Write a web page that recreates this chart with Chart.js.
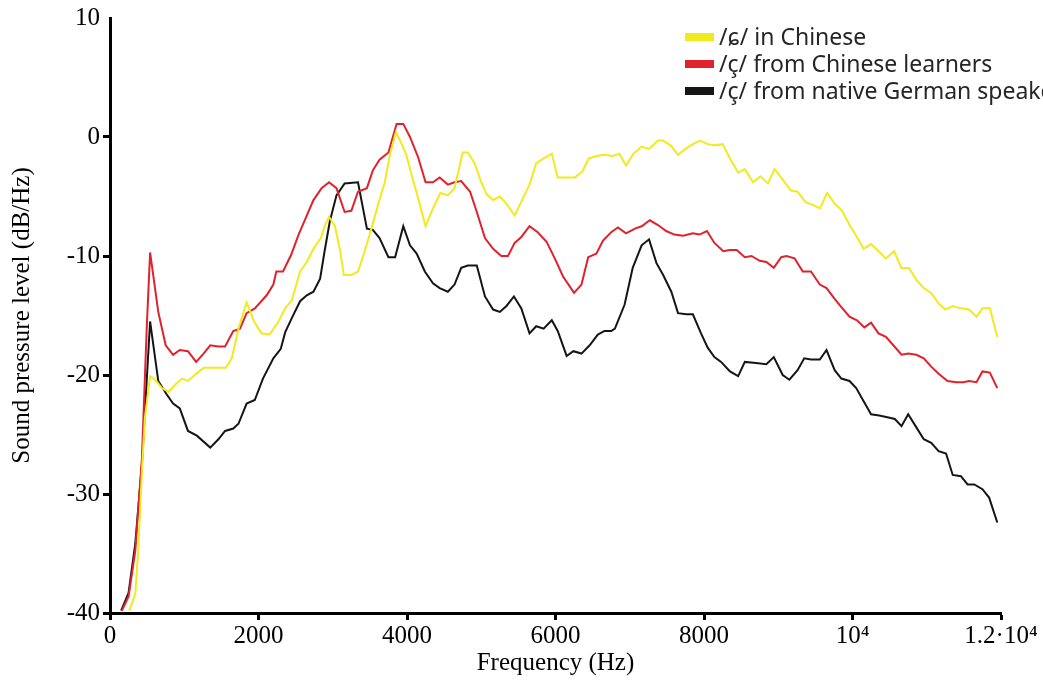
<!DOCTYPE html>
<html>
<head>
<meta charset="utf-8">
<script src="https://cdn.jsdelivr.net/npm/chart.js@4.4.1/dist/chart.umd.min.js"></script>
<style>
  html, body { margin: 0; padding: 0; background: #fff; }
  #wrap { position: relative; width: 1043px; height: 684px; }
</style>
</head>
<body>
<div id="wrap"><canvas id="spectrum"></canvas></div>
<script>
// /ɕ/ in Chinese (yellow)
const chineseFreq = [
  260, 340, 380, 430, 470, 540, 610, 700, 790, 880,
  970, 1050, 1140, 1260, 1350, 1460, 1560, 1640, 1730, 1840,
  1940, 2040, 2150, 2270, 2360, 2450, 2510, 2560, 2650, 2740,
  2840, 2890, 2950, 3030, 3100, 3150, 3250, 3340, 3430, 3520,
  3610, 3700, 3770, 3850, 3930, 3990, 4080, 4170, 4250, 4350,
  4450, 4550, 4640, 4750, 4820, 4910, 5000, 5070, 5160, 5250,
  5340, 5450, 5550, 5650, 5740, 5840, 5950, 6030, 6150, 6260,
  6360, 6450, 6550, 6660, 6770, 6860, 6950, 7050, 7160, 7260,
  7380, 7450, 7550, 7650, 7750, 7850, 7950, 8050, 8140, 8250,
  8350, 8460, 8550, 8660, 8760, 8860, 8950, 9050, 9170, 9260,
  9370, 9470, 9560, 9660, 9760, 9860, 9960, 10060, 10150, 10250,
  10350, 10450, 10560, 10660, 10760, 10860, 10960, 11060, 11160, 11250,
  11350, 11460, 11570, 11670, 11750, 11850, 11950
];
const chineseLevel = [
  -39.8, -38.4, -34.8, -28.1, -23.6, -20.1, -20.4, -21.1, -21.4, -20.8,
  -20.3, -20.5, -20.0, -19.4, -19.4, -19.4, -19.4, -18.6, -16.1, -13.9,
  -15.5, -16.5, -16.6, -15.5, -14.4, -13.7, -12.4, -11.3, -10.5, -9.4,
  -8.5, -7.5, -6.7, -7.5, -9.6, -11.6, -11.6, -11.3, -9.6, -7.7,
  -5.7, -3.8, -1.5, 0.4, -0.6, -1.5, -3.6, -5.6, -7.5, -6.0,
  -4.7, -4.9, -4.3, -1.3, -1.3, -2.2, -3.8, -4.8, -5.3, -5.0,
  -5.6, -6.6, -5.3, -4.0, -2.2, -1.8, -1.4, -3.4, -3.4, -3.4,
  -2.9, -1.8, -1.6, -1.5, -1.6, -1.4, -2.4, -1.4, -0.8, -1.0,
  -0.3, -0.3, -0.7, -1.5, -1.0, -0.6, -0.3, -0.6, -0.7, -0.6,
  -1.8, -3.0, -2.7, -3.8, -3.3, -3.9, -2.7, -3.5, -4.5, -4.6,
  -5.5, -5.7, -6.0, -4.7, -5.6, -6.2, -7.4, -8.4, -9.4, -9.0,
  -9.6, -10.2, -9.6, -11.0, -11.0, -12.0, -12.7, -13.1, -14.0, -14.5,
  -14.2, -14.4, -14.5, -15.1, -14.4, -14.4, -16.8
];

// /ç/ from Chinese learners (red)
const learnerFreq = [
  160, 250, 340, 430, 495, 540, 650, 750, 850, 940, 1050,
  1160, 1260, 1350, 1460, 1550, 1660, 1750, 1840, 1950, 2110,
  2200, 2240, 2330, 2440, 2540, 2650, 2740, 2850, 2950, 3050,
  3160, 3250, 3340, 3460, 3540, 3630, 3750, 3860, 3950, 4040,
  4150, 4250, 4350, 4440, 4550, 4640, 4730, 4850, 4940, 5050,
  5160, 5270, 5360, 5450, 5540, 5650, 5760, 5880, 5990, 6100,
  6250, 6350, 6440, 6550, 6640, 6750, 6840, 6950, 7070, 7160,
  7270, 7380, 7490, 7600, 7720, 7850, 7940, 8040, 8140, 8260,
  8350, 8440, 8550, 8640, 8750, 8840, 8940, 9040, 9110, 9220,
  9330, 9440, 9560, 9650, 9760, 9850, 9960, 10060, 10160, 10250,
  10350, 10450, 10550, 10660, 10750, 10860, 10960, 11060, 11160, 11280,
  11400, 11490, 11570, 11670, 11750, 11850, 11950
];
const learnerLevel = [
  -39.8, -38.6, -34.8, -27.0, -16.0, -9.7, -14.7, -17.5, -18.3, -17.9, -18.0,
  -18.9, -18.2, -17.5, -17.6, -17.6, -16.3, -16.1, -14.8, -14.4, -13.3,
  -12.4, -11.3, -11.3, -9.9, -8.2, -6.6, -5.3, -4.3, -3.8, -4.3,
  -6.3, -6.2, -4.6, -4.3, -2.8, -1.9, -1.3, 1.1, 1.1, 0.0,
  -1.7, -3.8, -3.8, -3.4, -4.0, -3.8, -3.7, -4.6, -6.3, -8.5,
  -9.4, -10.0, -10.0, -8.9, -8.4, -7.5, -8.0, -8.8, -10.2, -11.7,
  -13.1, -12.4, -10.1, -9.8, -8.7, -8.0, -7.6, -8.1, -7.7, -7.5,
  -7.0, -7.4, -7.9, -8.2, -8.3, -8.1, -8.2, -7.9, -8.9, -9.6,
  -9.5, -9.5, -10.1, -10.0, -10.4, -10.5, -11.0, -10.1, -10.0, -10.2,
  -11.3, -11.3, -12.4, -12.7, -13.6, -14.3, -15.1, -15.4, -16.0, -15.6,
  -16.5, -16.8, -17.5, -18.3, -18.2, -18.3, -18.6, -19.3, -19.9, -20.5,
  -20.6, -20.6, -20.5, -20.6, -19.7, -19.8, -21.1
];

// /ç/ from native German speakers (black)
const nativeFreq = [
  150, 250, 340, 430, 540, 650, 760, 850, 940, 1050,
  1170, 1350, 1460, 1550, 1660, 1730, 1840, 1950, 2060, 2200,
  2300, 2360, 2450, 2560, 2650, 2740, 2830, 2890, 2960, 3050,
  3160, 3340, 3460, 3540, 3630, 3750, 3840, 3950, 4040, 4130,
  4240, 4350, 4440, 4550, 4640, 4730, 4820, 4940, 5050, 5160,
  5250, 5340, 5440, 5540, 5650, 5740, 5840, 5950, 6030, 6150,
  6240, 6350, 6460, 6570, 6660, 6750, 6800, 6930, 7040, 7160,
  7260, 7360, 7450, 7560, 7650, 7760, 7850, 7960, 8050, 8140,
  8230, 8350, 8460, 8550, 8700, 8840, 8940, 9060, 9150, 9260,
  9350, 9440, 9560, 9650, 9760, 9850, 9960, 10050, 10150, 10250,
  10360, 10500, 10570, 10660, 10750, 10860, 10960, 11060, 11160, 11260,
  11350, 11460, 11550, 11640, 11750, 11840, 11950
];
const nativeLevel = [
  -39.8, -38.3, -34.2, -27.5, -15.5, -20.5, -21.6, -22.4, -22.8, -24.7,
  -25.1, -26.1, -25.4, -24.7, -24.5, -24.1, -22.4, -22.1, -20.3, -18.6,
  -17.8, -16.4, -15.2, -13.8, -13.3, -13.0, -11.9, -9.6, -7.1, -4.9,
  -3.9, -3.8, -7.7, -7.8, -8.5, -10.1, -10.1, -7.5, -9.1, -9.8,
  -11.3, -12.3, -12.7, -13.0, -12.4, -11.0, -10.8, -10.8, -13.4, -14.5,
  -14.7, -14.2, -13.4, -14.4, -16.5, -15.9, -16.1, -15.4, -16.3, -18.4,
  -18.0, -18.2, -17.5, -16.6, -16.3, -16.3, -16.1, -14.1, -11.0, -9.1,
  -8.6, -10.6, -11.6, -13.0, -14.8, -14.9, -14.9, -16.5, -17.7, -18.5,
  -18.9, -19.7, -20.1, -18.9, -19.0, -19.1, -18.5, -20.0, -20.4, -19.6,
  -18.6, -18.7, -18.7, -17.9, -19.6, -20.3, -20.5, -21.1, -22.2, -23.3,
  -23.4, -23.6, -23.7, -24.3, -23.3, -24.4, -25.4, -25.7, -26.4, -26.6,
  -28.4, -28.5, -29.2, -29.2, -29.6, -30.3, -32.4
];

const seriesLabels = ['/ɕ/ in Chinese', '/ç/ from Chinese learners', '/ç/ from native German speakers'];
const xTickValues = [0, 2000, 4000, 6000, 8000, 10000, 12000];
const xTickLabels = ['0', '2000', '4000', '6000', '8000', '10⁴', '1.2·10⁴'];

const COLORS = {
  yellow: '#f2ea1e',
  red: '#e0222c',
  black: '#151515'
};

function toPoints(freq, level) {
  return freq.map((f, i) => ({ x: f, y: level[i] }));
}

// Legend drawn in the top-right corner, clipped by the canvas edge like the original
const cornerLegend = {
  id: 'cornerLegend',
  afterDraw(chart) {
    const ctx = chart.ctx;
    ctx.save();
    ctx.font = '23px "Noto Sans", "DejaVu Sans", sans-serif';
    ctx.textBaseline = 'middle';
    chart.data.datasets.forEach((ds, i) => {
      const y = 37 + i * 27;
      ctx.fillStyle = ds.borderColor;
      ctx.fillRect(685, y - 4, 29, 8);
      ctx.fillStyle = '#262626';
      ctx.fillText(ds.label, 719, y + 1);
    });
    ctx.restore();
  }
};

const serif = '"Liberation Serif", "Times New Roman", serif';

const lineStyle = {
  borderWidth: 2,
  pointRadius: 0,
  tension: 0,
  fill: false
};

new Chart(document.getElementById('spectrum'), {
  type: 'line',
  data: {
    datasets: [
      { label: seriesLabels[0], data: toPoints(chineseFreq, chineseLevel), borderColor: COLORS.yellow, ...lineStyle },
      { label: seriesLabels[1], data: toPoints(learnerFreq, learnerLevel), borderColor: COLORS.red, ...lineStyle },
      { label: seriesLabels[2], data: toPoints(nativeFreq, nativeLevel), borderColor: COLORS.black, ...lineStyle }
    ]
  },
  options: {
    responsive: true,
    maintainAspectRatio: false,
    animation: false,
    layout: {
      padding: { left: 0, right: 42, top: 16, bottom: 0 }
    },
    plugins: {
      legend: { display: false },
      tooltip: { enabled: false }
    },
    scales: {
      x: {
        type: 'linear',
        min: 0,
        max: 12000,
        afterFit: (scale) => { scale.height = 71; },
        afterBuildTicks: (scale) => { scale.ticks = xTickValues.map(v => ({ value: v })); },
        border: { display: true, color: '#000', width: 3 },
        grid: {
          drawOnChartArea: false,
          drawTicks: true,
          tickLength: 7,
          tickWidth: 3,
          tickColor: '#000'
        },
        ticks: {
          autoSkip: false,
          maxRotation: 0,
          padding: 1,
          color: '#000',
          font: { family: serif, size: 25 },
          callback: (v) => {
            const i = xTickValues.indexOf(v);
            return i >= 0 ? xTickLabels[i] : '';
          }
        },
        title: {
          display: true,
          text: 'Frequency (Hz)',
          color: '#000',
          font: { family: serif, size: 25 },
          padding: { top: 0, bottom: 6 }
        }
      },
      y: {
        min: -40,
        max: 10,
        afterFit: (scale) => { scale.width = 110; },
        border: { display: true, color: '#000', width: 3 },
        grid: {
          drawOnChartArea: false,
          drawTicks: true,
          tickLength: 7,
          tickWidth: 3,
          tickColor: (c) => (c.tick && c.tick.value === 10 ? 'rgba(0,0,0,0)' : '#000')
        },
        ticks: {
          stepSize: 10,
          padding: 3,
          color: '#000',
          font: { family: serif, size: 25 }
        },
        title: {
          display: true,
          text: 'Sound pressure level (dB/Hz)',
          color: '#000',
          font: { family: serif, size: 25 },
          padding: { top: 7, bottom: 0 }
        }
      }
    }
  },
  plugins: [cornerLegend]
});
</script>
</body>
</html>
